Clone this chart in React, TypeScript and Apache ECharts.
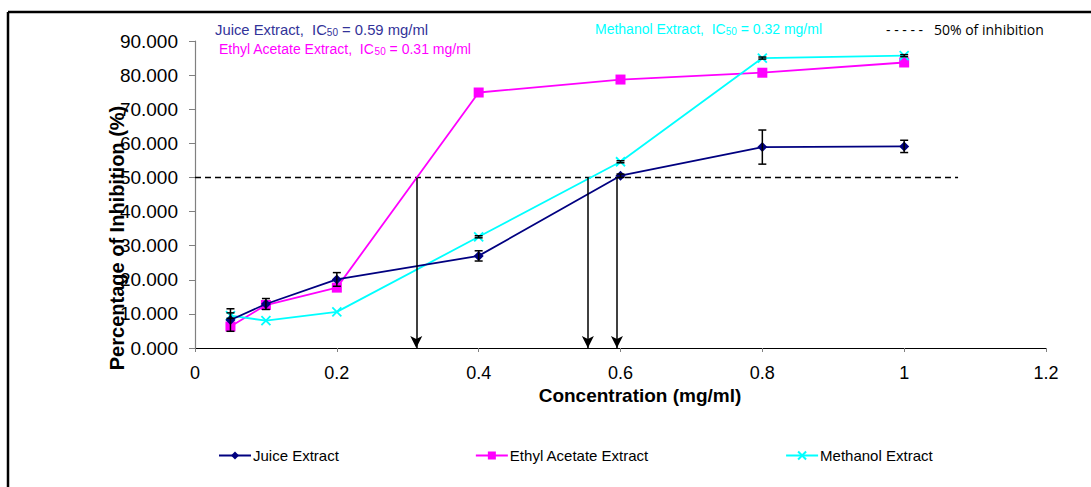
import React, { useEffect, useRef } from "react";
import * as echarts from "echarts";

// Concentrations tested (mg/ml)
const concentrations = [0.05, 0.1, 0.2, 0.4, 0.6, 0.8, 1.0];

// Mean percentage of inhibition and standard deviation per extract
const juiceValues = [8.2, 12.9, 20.1, 27.0, 50.5, 58.9, 59.1];
const juiceErrors = [3.3, 1.6, 2.0, 1.5, 0.5, 5.0, 1.8];
const ethylValues = [6.3, 12.6, 17.7, 74.9, 78.7, 80.7, 83.7];
const ethylErrors = [0, 0, 0, 0, 0, 0, 0];
const methanolValues = [9.5, 8.0, 10.6, 32.6, 54.6, 85.0, 85.7];
const methanolErrors = [0.8, 0, 0, 0.3, 0.3, 0.3, 0.3];

// 50 % inhibition reference and the read-off concentrations
const halfInhibition = 50;
const referenceLineEnd = 1.076;
const icArrowX = [0.312, 0.554, 0.595];

const yTicks = [0, 10, 20, 30, 40, 50, 60, 70, 80, 90];
const xTicks = [0, 0.2, 0.4, 0.6, 0.8, 1, 1.2];

const NAVY = "#000080";
const MAGENTA = "#FF00FF";
const CYAN = "#00FFFF";
const FONT = 'Arial, "Liberation Sans", sans-serif';

const crossSymbol = "path://M0,0L10,10M10,0L0,10";

function pairs(values: number[]) {
  return concentrations.map((c, i) => [c, values[i]]);
}

function errorSeries(values: number[], errors: number[]) {
  return {
    type: "custom",
    silent: true,
    z: 5,
    data: concentrations
      .map((c, i) => [c, values[i] - errors[i], values[i] + errors[i], errors[i]])
      .filter((d) => d[3] > 0),
    renderItem: (params: any, api: any) => {
      const lo = api.coord([api.value(0), api.value(1)]);
      const hi = api.coord([api.value(0), api.value(2)]);
      const half = 4;
      const style = { stroke: "#000", lineWidth: 1.5 };
      return {
        type: "group",
        children: [
          { type: "line", shape: { x1: lo[0], y1: lo[1], x2: hi[0], y2: hi[1] }, style },
          { type: "line", shape: { x1: lo[0] - half, y1: lo[1], x2: lo[0] + half, y2: lo[1] }, style },
          { type: "line", shape: { x1: hi[0] - half, y1: hi[1], x2: hi[0] + half, y2: hi[1] }, style },
        ],
      };
    },
  };
}

function icLabel(name: string, value: string) {
  return `{a|${name},  IC}{s|50}{a| = ${value} mg/ml}`;
}

export default function App() {
  const ref = useRef<HTMLDivElement>(null);

  useEffect(() => {
    if (!ref.current) return;
    const chart = echarts.init(ref.current, undefined, { renderer: "svg" });

    const richFor = (color: string, size: number) => ({
      a: { fontFamily: FONT, fontSize: size, fill: color, color },
      s: { fontFamily: FONT, fontSize: 10, fill: color, color, padding: [5, 0, 0, 0] },
    });

    chart.setOption({
      animation: false,
      backgroundColor: "#fff",
      grid: { left: 195, right: 45, top: 41, bottom: 139 },
      xAxis: {
        type: "value",
        min: 0,
        max: 1.2,
        interval: 0.2,
        splitLine: { show: false },
        axisLine: { lineStyle: { color: "#000", width: 1.2 } },
        axisTick: { show: true, length: 4, inside: false, lineStyle: { color: "#808080" } },
        axisLabel: {
          margin: 16,
          fontFamily: FONT,
          fontSize: 18,
          color: "#000",
          formatter: (v: number) => {
            const t = xTicks.find((x) => Math.abs(x - v) < 1e-9);
            return t === undefined ? "" : String(t);
          },
        },
      },
      yAxis: {
        type: "value",
        min: 0,
        max: 90,
        interval: 10,
        splitLine: { show: false },
        axisLine: { show: true, lineStyle: { color: "#808080", width: 1.2 } },
        axisTick: { show: true, length: 6, inside: false, lineStyle: { color: "#808080" } },
        axisLabel: {
          margin: 17,
          fontFamily: FONT,
          fontSize: 19,
          color: "#000",
          formatter: (v: number) => (yTicks.includes(v) ? v.toFixed(3) : ""),
        },
      },
      legend: {
        data: ["Juice Extract", "Ethyl Acetate Extract", "Methanol Extract"],
        left: 213,
        top: 443,
        itemWidth: 32,
        itemHeight: 10,
        itemGap: 136,
        textStyle: { fontFamily: FONT, fontSize: 15, color: "#000", padding: [0, 0, 0, -3] },
      },
      series: [
        {
          name: "50% of inhibition",
          type: "line",
          data: [
            [0, halfInhibition],
            [referenceLineEnd, halfInhibition],
          ],
          symbol: "none",
          z: 1,
          lineStyle: { color: "#000", width: 1.5, type: [6, 4] },
          markLine: {
            silent: true,
            symbol: ["none", "arrow"],
            symbolSize: [9, 12],
            label: { show: false },
            lineStyle: { color: "#000", width: 1.5, type: "solid" },
            data: icArrowX.map((x) => [
              { coord: [x, halfInhibition] },
              { coord: [x, 0] },
            ]),
          },
        },
        {
          name: "Juice Extract",
          type: "line",
          data: pairs(juiceValues),
          symbol: "diamond",
          symbolSize: 10,
          z: 4,
          lineStyle: { color: NAVY, width: 1.8 },
          itemStyle: { color: NAVY },
        },
        {
          name: "Ethyl Acetate Extract",
          type: "line",
          data: pairs(ethylValues),
          symbol: "rect",
          symbolSize: 10,
          z: 3,
          lineStyle: { color: MAGENTA, width: 1.8 },
          itemStyle: { color: MAGENTA },
        },
        {
          name: "Methanol Extract",
          type: "line",
          data: pairs(methanolValues),
          symbol: crossSymbol,
          symbolSize: 9,
          z: 3,
          lineStyle: { color: CYAN, width: 1.8 },
          itemStyle: { color: CYAN, borderColor: CYAN, borderWidth: 1.8 },
        },
        errorSeries(juiceValues, juiceErrors),
        errorSeries(ethylValues, ethylErrors),
        errorSeries(methanolValues, methanolErrors),
      ],
      graphic: [
        // outer frame edges
        { type: "line", shape: { x1: 8, y1: 12, x2: 1091, y2: 12 }, style: { stroke: "#000", lineWidth: 2.5 } },
        { type: "line", shape: { x1: 8, y1: 12, x2: 8, y2: 487 }, style: { stroke: "#000", lineWidth: 2.5 } },
        // IC50 notes
        {
          type: "text",
          left: 215,
          top: 22,
          style: { text: icLabel("Juice Extract", "0.59"), rich: richFor("#333399", 14.8) },
        },
        {
          type: "text",
          left: 219,
          top: 42,
          style: { text: icLabel("Ethyl Acetate Extract", "0.31"), rich: richFor(MAGENTA, 14) },
        },
        {
          type: "text",
          left: 595,
          top: 22,
          style: { text: icLabel("Methanol Extract", "0.32"), rich: richFor(CYAN, 14) },
        },
        {
          type: "text",
          left: 886,
          top: 22,
          style: {
            text: "- - - - -   50% of inhibition",
            font: '14px "Open Sans", sans-serif',
            fill: "#000",
          },
        },
        // axis titles
        {
          type: "text",
          x: 640,
          y: 395,
          style: {
            text: "Concentration (mg/ml)",
            font: `bold 19px ${FONT}`,
            fill: "#000",
            align: "center",
            verticalAlign: "middle",
          },
        },
        {
          type: "text",
          x: 117,
          y: 238,
          rotation: Math.PI / 2,
          style: {
            text: "Percentage of Inhibition (%)",
            font: `bold 20px ${FONT}`,
            fill: "#000",
            align: "center",
            verticalAlign: "middle",
          },
        },
      ],
    });

    return () => chart.dispose();
  }, []);

  return (
    <div
      ref={ref}
      style={{ position: "fixed", left: 0, top: 0, width: 1091, height: 487, background: "#fff" }}
    />
  );
}
